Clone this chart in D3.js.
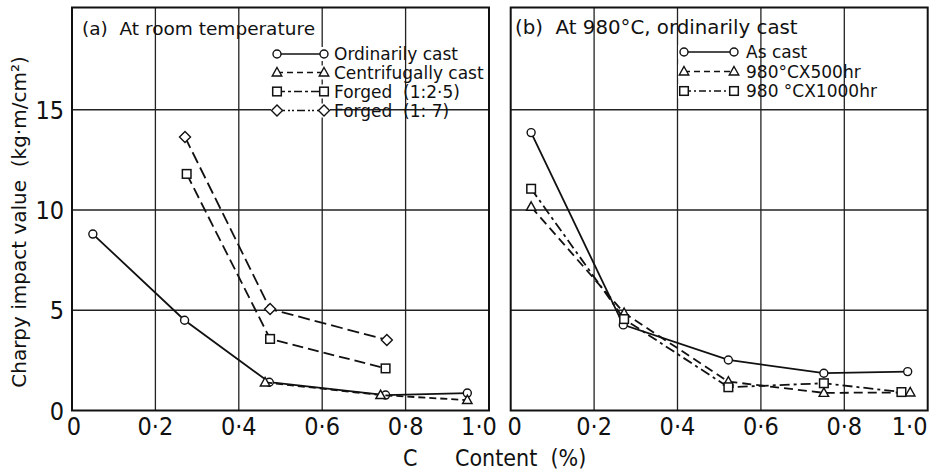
<!DOCTYPE html>
<html>
<head>
<meta charset="utf-8">
<script src="https://cdn.jsdelivr.net/npm/d3@7"></script>
<style>
  html, body { margin: 0; padding: 0; background: #fff; }
  svg text { white-space: pre; }
</style>
</head>
<body>
<svg id="chart" width="929" height="475"></svg>
<script>
// ---------------- data ----------------
const xTicks = [0, 0.2, 0.4, 0.6, 0.8, 1.0];
const xTickLabels = ["0", "0·2", "0·4", "0·6", "0·8", "1·0"];
const yTicks = [0, 5, 10, 15];
const yTickLabels = ["0", "5", "10", "15"];

// (a) At room temperature
const ordinaryX = [0.05, 0.27, 0.473, 0.752, 0.948];
const ordinaryY = [8.8, 4.5, 1.41, 0.77, 0.87];
const centrifX = [0.463, 0.74, 0.948];
const centrifY = [1.4, 0.77, 0.52];
const forged25X = [0.275, 0.475, 0.752];
const forged25Y = [11.8, 3.57, 2.1];
const forged7X = [0.271, 0.475, 0.755];
const forged7Y = [13.64, 5.06, 3.52];

// (b) At 980°C, ordinarily cast
const asCastX = [0.049, 0.27, 0.522, 0.751, 0.952];
const asCastY = [13.86, 4.27, 2.52, 1.86, 1.94];
const h500X = [0.049, 0.272, 0.522, 0.751, 0.958];
const h500Y = [10.16, 4.86, 1.44, 0.88, 0.9];
const h1000X = [0.049, 0.272, 0.522, 0.751, 0.937];
const h1000Y = [11.06, 4.56, 1.16, 1.36, 0.92];

const panelATitle = "(a)  At room temperature";
const panelBTitle = "(b)  At 980°C, ordinarily cast";
const yTitle = "Charpy impact value  (kg·m/cm²)";
const xTitleC = "C";
const xTitle = "Content  (%)";

// ---------------- layout ----------------
const svg = d3.select("#chart");
const yTop = 20.1;
const yScale = d3.scaleLinear().domain([0, yTop]).range([410.5, 7.5]);

const panels = [
  {
    x0: 72, x1: 489, title: panelATitle, titleX: 82, titleY: 35, titleSize: 18.5,
    legendX: 277, legendX2: 324, textX: 334, legendSize: 17,
    legendY: [54, 72.5, 91.5, 110.5],
    labelNudge: [2, 0, 0, 0, 0, -10],
    series: [
      { name: "Ordinarily cast", xs: ordinaryX, ys: ordinaryY, marker: "circle", dash: null },
      { name: "Centrifugally cast", xs: centrifX, ys: centrifY, marker: "triangle", dash: "7,4" },
      { name: "Forged  (1:2·5)", xs: forged25X, ys: forged25Y, marker: "square", dash: "11,5" },
      { name: "Forged  (1: 7)", xs: forged7X, ys: forged7Y, marker: "diamond", dash: "12,5" }
    ],
    legendDash: [null, "6,4", "8,3,3,3", "8,3,2,2,2,3"]
  },
  {
    x0: 510.7, x1: 927.7, title: panelBTitle, titleX: 515, titleY: 34, titleSize: 19.8,
    legendX: 684, legendX2: 734, textX: 746, legendSize: 17,
    legendY: [52, 71.5, 91],
    labelNudge: [4, 0, 0, 0, 0, -18],
    series: [
      { name: "As cast", xs: asCastX, ys: asCastY, marker: "circle", dash: null },
      { name: "980°CX500hr", xs: h500X, ys: h500Y, marker: "triangle", dash: "9,5" },
      { name: "980 °CX1000hr", xs: h1000X, ys: h1000Y, marker: "square", dash: "10,4,3,4" }
    ],
    legendDash: [null, "6,4", "7,3,2,3"]
  }
];

const tickFont = "'Liberation Sans Narrow', 'DejaVu Sans Condensed', sans-serif";
const textFont = "'DejaVu Sans', sans-serif";

function drawMarker(g, type, cx, cy) {
  if (type === "circle") {
    g.append("circle").attr("cx", cx).attr("cy", cy).attr("r", 4)
      .attr("fill", "#fff").attr("stroke", "#111").attr("stroke-width", 1.4);
  } else if (type === "triangle") {
    const s = 5;
    g.append("path").attr("d", `M${cx},${cy - s}L${cx + s * 0.95},${cy + s * 0.7}L${cx - s * 0.95},${cy + s * 0.7}Z`)
      .attr("fill", "#fff").attr("stroke", "#111").attr("stroke-width", 1.4);
  } else if (type === "square") {
    const s = 4.3;
    g.append("rect").attr("x", cx - s).attr("y", cy - s).attr("width", 2 * s).attr("height", 2 * s)
      .attr("fill", "#fff").attr("stroke", "#111").attr("stroke-width", 1.5);
  } else if (type === "diamond") {
    const s = 5.5;
    g.append("path").attr("d", `M${cx},${cy - s}L${cx + s},${cy}L${cx},${cy + s}L${cx - s},${cy}Z`)
      .attr("fill", "#fff").attr("stroke", "#111").attr("stroke-width", 1.4);
  }
}

panels.forEach(p => {
  const x = d3.scaleLinear().domain([0, 1]).range([p.x0, p.x1]);
  const g = svg.append("g");

  // grid lines
  g.selectAll(".vg").data(xTicks.slice(1, -1)).join("line")
    .attr("x1", d => x(d)).attr("x2", d => x(d))
    .attr("y1", yScale(0)).attr("y2", yScale(yTop))
    .attr("stroke", "#222").attr("stroke-width", 1.3);
  g.selectAll(".hg").data(yTicks.slice(1)).join("line")
    .attr("x1", p.x0).attr("x2", p.x1)
    .attr("y1", d => yScale(d)).attr("y2", d => yScale(d))
    .attr("stroke", "#222").attr("stroke-width", 1.3);

  // frame
  g.append("rect").attr("x", p.x0).attr("y", yScale(yTop))
    .attr("width", p.x1 - p.x0).attr("height", yScale(0) - yScale(yTop))
    .attr("fill", "none").attr("stroke", "#111").attr("stroke-width", 2);

  // x tick labels
  g.selectAll(".xl").data(xTicks).join("text")
    .attr("x", (d, i) => x(d) + p.labelNudge[i])
    .attr("y", 435)
    .attr("text-anchor", "middle")
    .attr("font-family", tickFont).attr("font-size", 25).attr("fill", "#111")
    .text((d, i) => xTickLabels[i]);

  // title
  g.append("text").attr("x", p.titleX).attr("y", p.titleY)
    .attr("font-family", textFont).attr("font-size", p.titleSize).attr("fill", "#111")
    .text(p.title);

  // series
  const line = d3.line().x(d => x(d[0])).y(d => yScale(d[1]));
  p.series.forEach((s, si) => {
    const pts = s.xs.map((v, i) => [v, s.ys[i]]);
    g.append("path").attr("d", line(pts))
      .attr("fill", "none").attr("stroke", "#111").attr("stroke-width", 1.8)
      .attr("stroke-dasharray", s.dash);
    pts.forEach(pt => drawMarker(g, s.marker, x(pt[0]), yScale(pt[1])));

    // legend
    const ly = p.legendY[si];
    g.append("rect").attr("x", p.legendX - 6).attr("y", ly - 7)
      .attr("width", p.legendX2 - p.legendX + 12).attr("height", 14).attr("fill", "#fff");
    g.append("line").attr("x1", p.legendX).attr("x2", p.legendX2)
      .attr("y1", ly).attr("y2", ly)
      .attr("stroke", "#111").attr("stroke-width", 1.6)
      .attr("stroke-dasharray", p.legendDash[si]);
    drawMarker(g, s.marker, p.legendX, ly);
    drawMarker(g, s.marker, p.legendX2, ly);
    g.append("text").attr("x", p.textX).attr("y", ly + 6)
      .attr("font-family", textFont).attr("font-size", p.legendSize).attr("fill", "#111")
      .text(s.name);
  });
});

// y tick labels (left panel only)
svg.selectAll(".yl").data(yTicks).join("text")
  .attr("x", 64)
  .attr("y", d => yScale(d) + 9)
  .attr("text-anchor", "end")
  .attr("font-family", tickFont).attr("font-size", 25).attr("fill", "#111")
  .text((d, i) => yTickLabels[i]);

// y axis title
svg.append("text")
  .attr("transform", `translate(26,${222}) rotate(-90)`)
  .attr("text-anchor", "middle")
  .attr("font-family", textFont).attr("font-size", 20).attr("fill", "#111")
  .text(yTitle);

// x axis title
svg.append("text").attr("x", 403).attr("y", 466).attr("text-anchor", "start")
  .attr("font-family", tickFont).attr("font-size", 23).attr("fill", "#111")
  .text(xTitleC);
svg.append("text").attr("x", 455).attr("y", 466).attr("text-anchor", "start")
  .attr("font-family", tickFont).attr("font-size", 23).attr("fill", "#111")
  .text(xTitle);
</script>
</body>
</html>
